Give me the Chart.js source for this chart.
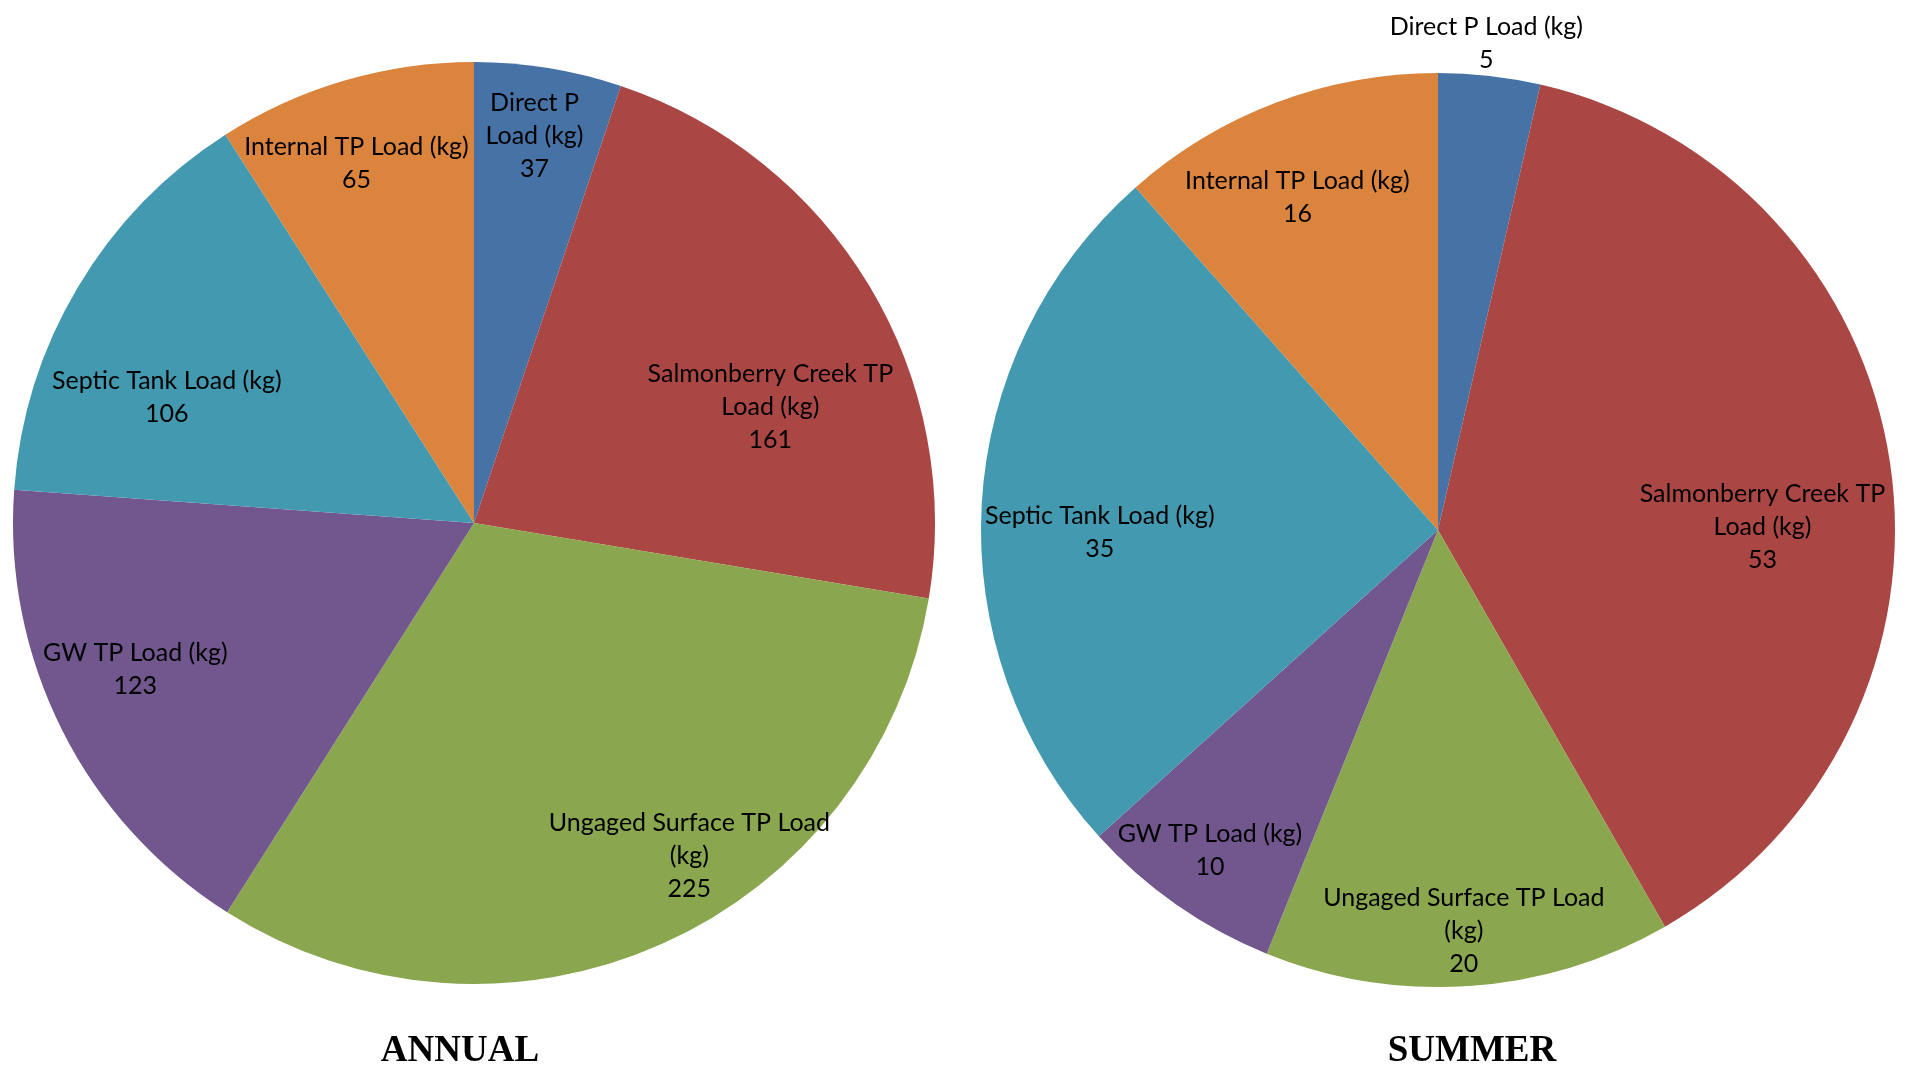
<!DOCTYPE html>
<html>
<head>
<meta charset="utf-8">
<script src="https://cdn.jsdelivr.net/npm/chart.js@4.4.1/dist/chart.umd.min.js"></script>
<style>
  html, body { margin: 0; padding: 0; background: #fff; }
  body { width: 1908px; height: 1069px; position: relative; overflow: hidden; }
  .box { position: absolute; top: 0; width: 954px; height: 1069px; }
  .ttl { position: absolute; font: bold 37px "Liberation Serif", "Times New Roman", serif; color: #000;
         transform: translate(-50%, -50%); white-space: nowrap; }
</style>
</head>
<body>
<div class="box" style="left:0"><canvas id="annualChart"></canvas></div>
<div class="box" style="left:954px"><canvas id="summerChart"></canvas></div>
<div class="ttl" style="left:460px; top:1048px">ANNUAL</div>
<div class="ttl" style="left:1472px; top:1048px">SUMMER</div>
<script>
let categories = ['Direct P Load (kg)', 'Salmonberry Creek TP Load (kg)', 'Ungaged Surface TP Load (kg)',
    'GW TP Load (kg)', 'Septic Tank Load (kg)', 'Internal TP Load (kg)'];
let annualData = [37, 161, 225, 123, 106, 65];
let summerData = [5, 53, 20, 10, 35, 16];
let colors = ['#4672A6', '#AA4644', '#8AA64E', '#71578E', '#4399AF', '#DB843D'];

// label placement: fraction of radius, angle nudge (deg), wrap width (px)
let annualPlace = {
    radius: [0.85, 0.69, 0.86, 0.80, 0.72, 0.82],
    shift: [-0.4, 9.7, -8.8, 3.4, -8.5, -1.8],
    wrap: [110, 295, 295, 295, 295, 295]
};
let summerPlace = {
    radius: [1.07, 0.71, 0.88, 0.86, 0.74, 0.79],
    shift: [-0.8, 7.9, 0.2, 0.5, -3.7, -2.2],
    wrap: [295, 295, 295, 295, 295, 295]
};

function wrapText(ctx, text, maxW) {
    let words = text.split(' ');
    let lines = [];
    let cur = '';
    words.forEach(w => {
        let test = cur ? cur + ' ' + w : w;
        if (cur && ctx.measureText(test).width > maxW) {
            lines.push(cur);
            cur = w;
        } else {
            cur = test;
        }
    });
    if (cur) lines.push(cur);
    return lines;
}

function labelPlugin(place) {
    return {
        id: 'sliceLabels',
        afterDatasetsDraw(chart) {
            let ctx = chart.ctx;
            let meta = chart.getDatasetMeta(0);
            let values = chart.data.datasets[0].data;
            let lineH = 33;
            ctx.save();
            ctx.font = '25px Lato, "Noto Sans", sans-serif';
            ctx.fillStyle = '#000';
            ctx.textAlign = 'center';
            ctx.textBaseline = 'middle';
            meta.data.forEach((arc, i) => {
                let p = arc.getProps(['x', 'y', 'startAngle', 'endAngle', 'outerRadius'], true);
                let mid = (p.startAngle + p.endAngle) / 2 + place.shift[i] * Math.PI / 180;
                let r = p.outerRadius * place.radius[i];
                let cx = p.x + Math.cos(mid) * r;
                let cy = p.y + Math.sin(mid) * r;
                let lines = wrapText(ctx, chart.data.labels[i], place.wrap[i]);
                lines.push(String(values[i]));
                let top = cy - (lines.length - 1) * lineH / 2;
                lines.forEach((t, k) => ctx.fillText(t, cx, top + k * lineH));
            });
            ctx.restore();
        }
    };
}

function makePie(id, values, place, pad) {
    return new Chart(document.getElementById(id).getContext('2d'), {
        type: 'pie',
        data: {
            labels: categories,
            datasets: [{
                data: values,
                backgroundColor: colors,
                borderWidth: 0
            }]
        },
        options: {
            responsive: true,
            maintainAspectRatio: false,
            animation: false,
            events: [],
            layout: { padding: pad },
            plugins: {
                legend: { display: false },
                tooltip: { enabled: false },
                title: { display: false }
            }
        },
        plugins: [labelPlugin(place)]
    });
}

let chart1 = makePie('annualChart', annualData, annualPlace, { left: 13, right: 19, top: 62, bottom: 85 });
let chart2 = makePie('summerChart', summerData, summerPlace, { left: 27, right: 13, top: 73, bottom: 82 });
</script>
</body>
</html>
